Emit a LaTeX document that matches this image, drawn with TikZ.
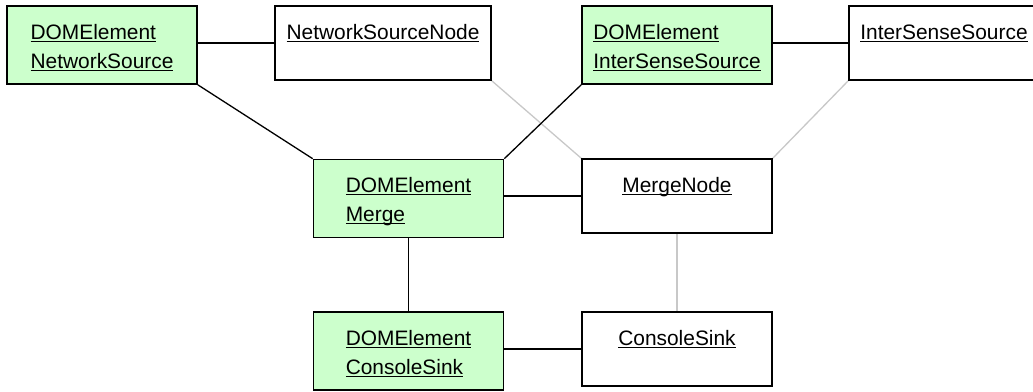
\documentclass[tikz,border=0pt]{standalone}
\usepackage{fontspec}
\setmainfont{Liberation Sans}
\newcommand\ulx[1]{\leavevmode\setbox0\hbox{#1}\rlap{\rule[-2.6pt]{\wd0}{1.3pt}}\box0}
\begin{document}
\begin{tikzpicture}[x=1pt,y=-1pt,
  gbox/.style={draw=black,line width=1.6pt,fill=green!20!white,minimum width=190pt,minimum height=78pt,inner sep=0pt},
  wbox/.style={draw=black,line width=1.6pt,fill=white,minimum width=190pt,minimum height=74pt,inner sep=0pt},
  lbl/.style={anchor=base,inner sep=0pt,font=\fontsize{20.9}{29}\selectfont},
  conn/.style={draw=black,line width=1.3pt},
  gconn/.style={draw={rgb,255:red,200;green,200;blue,200},line width=1.3pt}]
\useasboundingbox (0,0) rectangle (1033,391);
\clip (0,0) rectangle (1033,391);
% boxes
\node[gbox] (nsG) at (102,45) {};
\node[wbox,minimum width=216pt] (nsW) at (383,43) {};
\node[gbox] (isG) at (677,45) {};
\node[wbox] (isW) at (944,43) {};
\node[gbox] (mG) at (408.5,198.5) {};
\node[wbox] (mW) at (677,196) {};
\node[gbox] (cG) at (408.5,351) {};
\node[wbox] (cW) at (677,349) {};
% connectors
\draw[conn] (nsW.west -| nsG.east) -- (nsW.west);
\draw[conn] (nsG.south east) -- (mG.north west);
\draw[gconn] (nsW.south east) -- (mW.north west);
\draw[conn] (isG.south west) -- (mG.north east);
\draw[conn] (isW.west -| isG.east) -- (isW.west);
\draw[gconn] (isW.south west) -- (mW.north east);
\draw[conn] (mW.west -| mG.east) -- (mW.west);
\draw[conn] (mG.south) -- (cG.north);
\draw[gconn] (mW.south) -- (cW.north);
\draw[conn] (cW.west -| cG.east) -- (cW.west);
% redraw boxes on top
\node[gbox] at (nsG) {};
\node[wbox,minimum width=216pt] at (nsW) {};
\node[gbox] at (isG) {};
\node[wbox] at (isW) {};
\node[gbox] at (mG) {};
\node[wbox] at (mW) {};
\node[gbox] at (cG) {};
\node[wbox] at (cW) {};
% labels
\node[lbl] (nsGt) at ([yshift=-34pt]nsG.north) {\begin{tabular}[t]{@{}l@{}}\ulx{DOMElement}\\\ulx{NetworkSource}\end{tabular}};
\node[lbl] (nsWt) at ([yshift=-34pt]nsW.north) {\ulx{NetworkSourceNode}};
\node[lbl] (isGt) at ([yshift=-34pt]isG.north) {\begin{tabular}[t]{@{}l@{}}\ulx{DOMElement}\\\ulx{InterSenseSource}\end{tabular}};
\node[lbl] (isWt) at ([yshift=-34pt]isW.north) {\ulx{InterSenseSource}};
\node[lbl] (mGt) at ([yshift=-34pt]mG.north) {\begin{tabular}[t]{@{}l@{}}\ulx{DOMElement}\\\ulx{Merge}\end{tabular}};
\node[lbl] (mWt) at ([yshift=-34pt]mW.north) {\ulx{MergeNode}};
\node[lbl] (cGt) at ([yshift=-34pt]cG.north) {\begin{tabular}[t]{@{}l@{}}\ulx{DOMElement}\\\ulx{ConsoleSink}\end{tabular}};
\node[lbl] (cWt) at ([yshift=-34pt]cW.north) {\ulx{ConsoleSink}};
\end{tikzpicture}
\end{document}
